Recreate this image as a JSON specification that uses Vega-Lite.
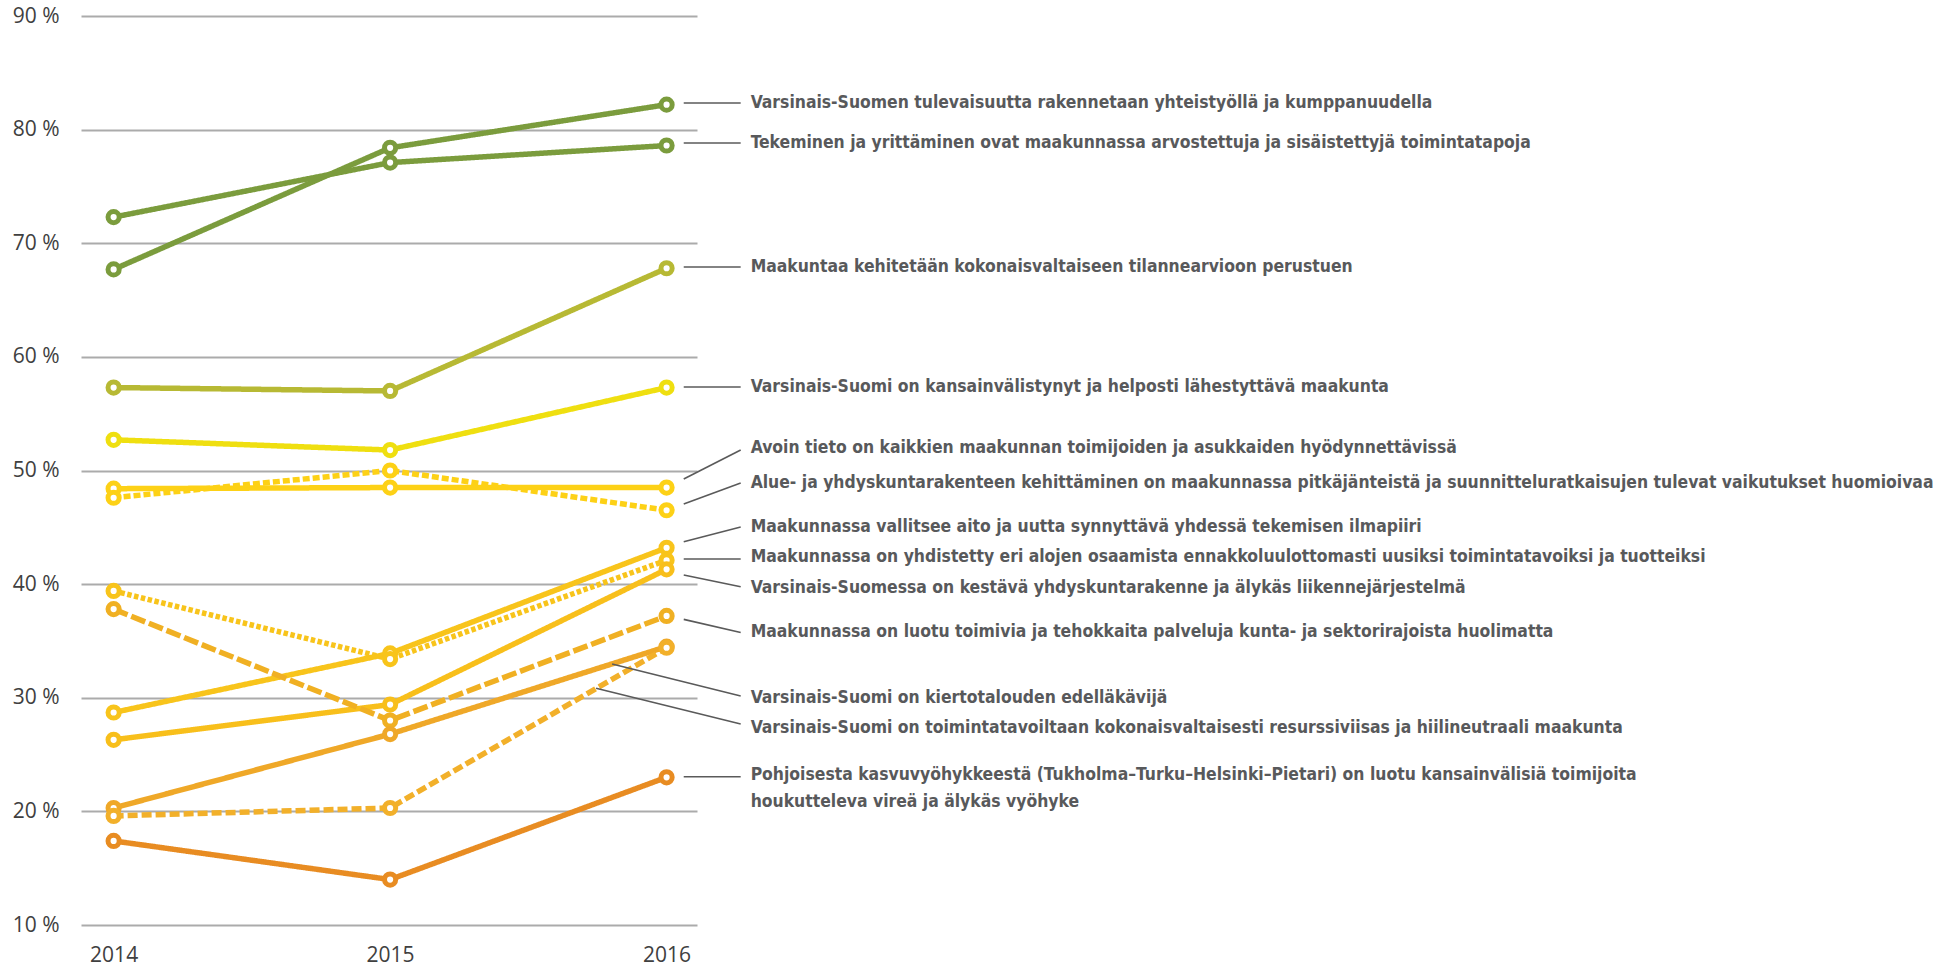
{
  "$schema": "https://vega.github.io/schema/vega-lite/v6.json",
  "width": 616,
  "height": 909,
  "autosize": {"type": "none"},
  "padding": {"left": 81, "top": 16, "right": 1249, "bottom": 42},
  "background": "white",
  "config": {"view": {"stroke": null}},
  "datasets": {
    "series": [
      {"series": "A", "year": 2014, "value": 67.7}, {"series": "A", "year": 2015, "value": 78.4}, {"series": "A", "year": 2016, "value": 82.2},
      {"series": "B", "year": 2014, "value": 72.3}, {"series": "B", "year": 2015, "value": 77.1}, {"series": "B", "year": 2016, "value": 78.6},
      {"series": "C", "year": 2014, "value": 57.3}, {"series": "C", "year": 2015, "value": 57.0}, {"series": "C", "year": 2016, "value": 67.8},
      {"series": "D", "year": 2014, "value": 52.7}, {"series": "D", "year": 2015, "value": 51.8}, {"series": "D", "year": 2016, "value": 57.3},
      {"series": "E", "year": 2014, "value": 48.4}, {"series": "E", "year": 2015, "value": 48.5}, {"series": "E", "year": 2016, "value": 48.5},
      {"series": "F", "year": 2014, "value": 47.6}, {"series": "F", "year": 2015, "value": 50.0}, {"series": "F", "year": 2016, "value": 46.5},
      {"series": "G", "year": 2014, "value": 28.7}, {"series": "G", "year": 2015, "value": 33.9}, {"series": "G", "year": 2016, "value": 43.2},
      {"series": "H", "year": 2014, "value": 39.4}, {"series": "H", "year": 2015, "value": 33.4}, {"series": "H", "year": 2016, "value": 42.1},
      {"series": "I", "year": 2014, "value": 26.3}, {"series": "I", "year": 2015, "value": 29.4}, {"series": "I", "year": 2016, "value": 41.3},
      {"series": "J", "year": 2014, "value": 37.8}, {"series": "J", "year": 2015, "value": 28.0}, {"series": "J", "year": 2016, "value": 37.2},
      {"series": "K", "year": 2014, "value": 20.3}, {"series": "K", "year": 2015, "value": 26.8}, {"series": "K", "year": 2016, "value": 34.5},
      {"series": "L", "year": 2014, "value": 19.6}, {"series": "L", "year": 2015, "value": 20.3}, {"series": "L", "year": 2016, "value": 34.4},
      {"series": "M", "year": 2014, "value": 17.4}, {"series": "M", "year": 2015, "value": 14.0}, {"series": "M", "year": 2016, "value": 23.0}
    ],
    "leaders": [
      {"series": "A", "x1": 2016.062, "x2": 2016.268, "y1": 82.34, "y2": 82.34},
      {"series": "B", "x1": 2016.062, "x2": 2016.268, "y1": 78.82, "y2": 78.82},
      {"series": "C", "x1": 2016.062, "x2": 2016.268, "y1": 67.91, "y2": 67.91},
      {"series": "D", "x1": 2016.062, "x2": 2016.268, "y1": 57.35, "y2": 57.35},
      {"series": "E", "x1": 2016.062, "x2": 2016.268, "y1": 49.25, "y2": 51.8},
      {"series": "F", "x1": 2016.062, "x2": 2016.268, "y1": 47.05, "y2": 48.9},
      {"series": "G", "x1": 2016.062, "x2": 2016.268, "y1": 43.73, "y2": 45.03},
      {"series": "H", "x1": 2016.062, "x2": 2016.268, "y1": 42.21, "y2": 42.21},
      {"series": "I", "x1": 2016.062, "x2": 2016.268, "y1": 40.8, "y2": 39.77},
      {"series": "J", "x1": 2016.062, "x2": 2016.268, "y1": 36.9, "y2": 35.75},
      {"series": "K", "x1": 2015.803, "x2": 2016.268, "y1": 32.97, "y2": 30.15},
      {"series": "L", "x1": 2015.745, "x2": 2016.268, "y1": 30.83, "y2": 27.69},
      {"series": "M", "x1": 2016.062, "x2": 2016.268, "y1": 23.05, "y2": 23.05}
    ],
    "labels": [
      {"x": 2016.304, "y": 82.34, "text": "Varsinais-Suomen tulevaisuutta rakennetaan yhteistyöllä ja kumppanuudella"},
      {"x": 2016.304, "y": 78.82, "text": "Tekeminen ja yrittäminen ovat maakunnassa arvostettuja ja sisäistettyjä toimintatapoja"},
      {"x": 2016.304, "y": 67.91, "text": "Maakuntaa kehitetään kokonaisvaltaiseen tilannearvioon perustuen"},
      {"x": 2016.304, "y": 57.35, "text": "Varsinais-Suomi on kansainvälistynyt ja helposti lähestyttävä maakunta"},
      {"x": 2016.304, "y": 51.98, "text": "Avoin tieto on kaikkien maakunnan toimijoiden ja asukkaiden  hyödynnettävissä"},
      {"x": 2016.304, "y": 48.9, "text": "Alue- ja yhdyskuntarakenteen kehittäminen on maakunnassa pitkäjänteistä ja  suunnitteluratkaisujen tulevat vaikutukset huomioivaa"},
      {"x": 2016.304, "y": 45.03, "text": "Maakunnassa vallitsee aito ja uutta synnyttävä yhdessä tekemisen ilmapiiri"},
      {"x": 2016.304, "y": 42.39, "text": "Maakunnassa on yhdistetty eri alojen osaamista ennakkoluulottomasti uusiksi toimintatavoiksi ja tuotteiksi"},
      {"x": 2016.304, "y": 39.66, "text": "Varsinais-Suomessa on kestävä yhdyskuntarakenne ja älykäs liikennejärjestelmä"},
      {"x": 2016.304, "y": 35.79, "text": "Maakunnassa on luotu toimivia ja tehokkaita palveluja kunta- ja sektorirajoista huolimatta"},
      {"x": 2016.304, "y": 29.98, "text": "Varsinais-Suomi on kiertotalouden edelläkävijä"},
      {"x": 2016.304, "y": 27.34, "text": "Varsinais-Suomi on toimintatavoiltaan kokonaisvaltaisesti resurssiviisas ja hiilineutraali maakunta"},
      {"x": 2016.304, "y": 23.2, "text": "Pohjoisesta kasvuvyöhykkeestä (Tukholma–Turku–Helsinki–Pietari) on luotu kansainvälisiä toimijoita"},
      {"x": 2016.304, "y": 20.83, "text": "houkutteleva vireä ja älykäs vyöhyke"}
    ]
  },
  "layer": [
    {
      "data": {"name": "series"},
      "mark": {"type": "line", "strokeWidth": 5.5, "clip": false},
      "encoding": {
        "x": {
          "field": "year", "type": "quantitative",
          "scale": {"domain": [2013.882, 2016.11], "nice": false, "zero": false},
          "axis": {
            "values": [2014, 2015, 2016], "format": "d", "title": null,
            "grid": false, "domain": false, "ticks": false,
            "labelPadding": 19, "labelFontSize": 21, "labelFont": "Open Sans",
            "labelColor": "#404040", "labelFlush": false
          }
        },
        "y": {
          "field": "value", "type": "quantitative",
          "scale": {"domain": [10, 90], "nice": false, "zero": false},
          "axis": {
            "values": [10, 20, 30, 40, 50, 60, 70, 80, 90],
            "labelExpr": "datum.value + ' %'", "title": null,
            "grid": true, "gridColor": "#ababab", "gridWidth": 2,
            "domain": false, "ticks": false,
            "labelPadding": 22, "labelFontSize": 21, "labelFont": "Open Sans",
            "labelColor": "#404040"
          }
        },
        "color": {
          "field": "series", "type": "nominal", "legend": null,
          "scale": {
            "domain": ["A", "B", "C", "D", "E", "F", "G", "H", "I", "J", "K", "L", "M"],
            "range": ["#7b9c3d", "#7b9c3d", "#b7b934", "#efdf10", "#fdd116", "#fdd116", "#f8c41b", "#f8c41b", "#f8bf1b", "#f0b023", "#efa828", "#f2b02a", "#e88c22"]
          }
        },
        "strokeDash": {
          "field": "series", "type": "nominal", "legend": null,
          "scale": {
            "domain": ["A", "B", "C", "D", "E", "F", "G", "H", "I", "J", "K", "L", "M"],
            "range": [[1, 0], [1, 0], [1, 0], [1, 0], [1, 0], [7, 3], [1, 0], [4.5, 2.5], [1, 0], [15, 4], [1, 0], [10, 4], [1, 0]]
          }
        },
        "order": {"field": "year", "type": "quantitative"}
      }
    },
    {
      "data": {"name": "series"},
      "mark": {"type": "point", "shape": "circle", "filled": true, "fill": "white", "size": 125, "strokeWidth": 5, "opacity": 1, "clip": false},
      "encoding": {
        "x": {"field": "year", "type": "quantitative"},
        "y": {"field": "value", "type": "quantitative"},
        "stroke": {
          "field": "series", "type": "nominal", "legend": null,
          "scale": {
            "domain": ["A", "B", "C", "D", "E", "F", "G", "H", "I", "J", "K", "L", "M"],
            "range": ["#7b9c3d", "#7b9c3d", "#b7b934", "#efdf10", "#fdd116", "#fdd116", "#f8c41b", "#f8c41b", "#f8bf1b", "#f0b023", "#efa828", "#f2b02a", "#e88c22"]
          }
        }
      }
    },
    {
      "data": {"name": "leaders"},
      "mark": {"type": "rule", "color": "#5a5a5a", "strokeWidth": 1.6, "clip": false},
      "encoding": {
        "x": {"field": "x1", "type": "quantitative"},
        "x2": {"field": "x2"},
        "y": {"field": "y1", "type": "quantitative"},
        "y2": {"field": "y2"}
      }
    },
    {
      "data": {"name": "labels"},
      "mark": {"type": "text", "align": "left", "baseline": "middle", "font": "DejaVu Sans Condensed, Roboto", "fontWeight": "bold", "fontSize": 17.4, "color": "#58595b", "clip": false},
      "encoding": {
        "x": {"field": "x", "type": "quantitative"},
        "y": {"field": "y", "type": "quantitative"},
        "text": {"field": "text"}
      }
    }
  ]
}
